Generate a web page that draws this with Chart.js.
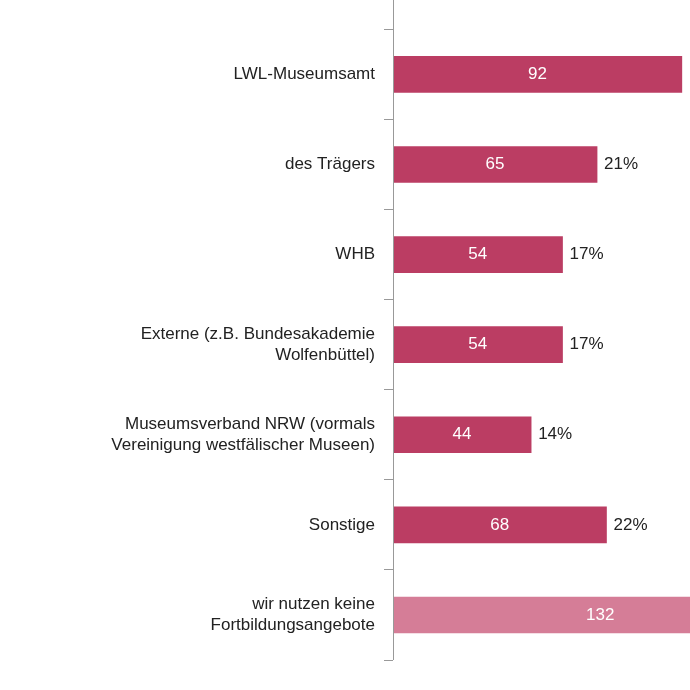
<!DOCTYPE html>
<html>
<head>
<meta charset="utf-8">
<script src="https://cdn.jsdelivr.net/npm/chart.js@4"></script>
<style>
  html, body { margin: 0; padding: 0; background: #fff; }
  #wrap { width: 690px; height: 690px; }
</style>
</head>
<body>
<div id="wrap"><canvas id="c"></canvas></div>
<script>
// Categories and values
const categories = [
    'LWL-Museumsamt',
    'des Trägers',
    'WHB',
    ['Externe (z.B. Bundesakademie', 'Wolfenbüttel)'],
    ['Museumsverband NRW (vormals', 'Vereinigung westfälischer Museen)'],
    'Sonstige',
    ['wir nutzen keine', 'Fortbildungsangebote']
];
const counts = [92, 65, 54, 54, 44, 68, 132];
const percents = [29, 21, 17, 17, 14, 22, 42];
const barColors = ['#bb3d63', '#bb3d63', '#bb3d63', '#bb3d63', '#bb3d63', '#bb3d63', '#d57d97'];

const FONT = "'Liberation Sans', Arial, sans-serif";

// Plugin: vertical axis line plus value / percent labels
Chart.register({
    id: 'barLabels',
    afterDatasetsDraw(chart) {
        const { ctx, chartArea } = chart;
        const meta = chart.getDatasetMeta(0);
        ctx.save();
        ctx.strokeStyle = '#999';
        ctx.lineWidth = 1;
        ctx.beginPath();
        ctx.moveTo(chartArea.left + 0.5, 0);
        ctx.lineTo(chartArea.left + 0.5, chartArea.bottom);
        ctx.stroke();

        ctx.font = '17px ' + FONT;
        ctx.textBaseline = 'middle';
        counts.forEach((v, i) => {
            const bar = meta.data[i];
            const p = bar.getProps(['base', 'x', 'y'], true);
            ctx.fillStyle = '#ffffff';
            ctx.textAlign = 'center';
            ctx.fillText(String(v), (p.base + p.x) / 2, p.y);
            // percent label only where it fits inside the picture (cut off in the original)
            const txt = percents[i] + '%';
            if (p.x + 7 + ctx.measureText(txt).width > chart.width) return;
            ctx.fillStyle = '#222';
            ctx.textAlign = 'left';
            ctx.fillText(txt, p.x + 7, p.y);
        });
        ctx.restore();
    }
});

new Chart(document.getElementById('c'), {
    type: 'bar',
    data: {
        labels: categories,
        datasets: [{
            data: counts,
            backgroundColor: barColors,
            barThickness: 36
        }]
    },
    options: {
        indexAxis: 'y',
        responsive: true,
        maintainAspectRatio: false,
        animation: false,
        layout: { padding: { top: 27, bottom: 30, left: 0, right: 0 } },
        scales: {
            x: { display: false, min: 0, max: 94.6 },
            y: {
                afterFit(scale) { scale.width = 393; },
                grid: {
                    offset: true,
                    drawOnChartArea: false,
                    tickLength: 9,
                    color: '#999'
                },
                border: { display: false },
                ticks: {
                    color: '#222',
                    font: { family: FONT, size: 17 },
                    padding: 9
                }
            }
        },
        plugins: { legend: { display: false }, tooltip: { enabled: false } }
    }
});
</script>
</body>
</html>
